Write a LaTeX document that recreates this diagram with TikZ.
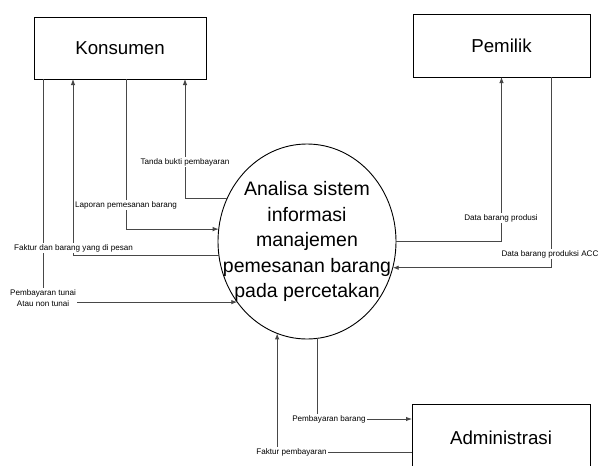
\documentclass[tikz,border=0pt]{standalone}
\usepackage{fontspec}
\setmainfont{Liberation Sans}
\usetikzlibrary{arrows.meta,shapes.geometric}
\begin{document}
\begin{tikzpicture}[x=1pt,y=-1pt,
  entity/.style={draw=black,line width=1pt,rectangle,inner sep=0pt,outer sep=0pt,
    font=\fontsize{18.7}{22}\selectfont},
  process/.style={draw=black,line width=0.9pt,ellipse,minimum width=178pt,
    minimum height=195pt,inner sep=0pt,outer sep=0pt},
  proctext/.style={align=center,inner sep=0pt,font=\fontsize{19.5}{25.5}\selectfont},
  flow/.style={draw=black!72,line width=0.9pt,-{Latex[length=6pt,width=4.5pt]}},
  lbl/.style={fill=white,inner xsep=1pt,inner ysep=1.5pt,align=center,
    font=\fontsize{8.1}{10.5}\selectfont}
]
\useasboundingbox (0,0) rectangle (600,466);
\clip (0,0) rectangle (600,466);
\fill[white] (0,0) rectangle (600,466);

% external entities
\node[entity,minimum width=172pt,minimum height=62pt] (kons) at (120,48) {Konsumen};
\node[entity,minimum width=177pt,minimum height=63pt] (pem) at (501.5,45.5) {Pemilik};
\node[entity,minimum width=178pt,minimum height=68pt] (adm) at (501,438) {Administrasi};

% the process
\node[process] (proc) at (307,241.5) {};
\node[proctext] (proctxt) at (proc.center) {Analisa sistem\\informasi\\manajemen\\pemesanan barang\\pada percetakan};

% data flows
\draw[flow] (proc.152.7) -| ([xshift=151pt]kons.south west);
\draw[flow] ([xshift=92pt]kons.south west) |- (proc.172);
\draw[flow] (proc.189.4) -| ([xshift=39pt]kons.south west);
\draw[flow] ([xshift=9pt]kons.south west) |- (proc.221.7);
\draw[flow] (proc.0) -| ([xshift=88.5pt]pem.south west);
\draw[flow] ([xshift=138pt]pem.south west) |- (proc.343.5);
\draw[flow] (proc.276.5) |- ([yshift=-15pt]adm.north west);
\draw[flow] ([yshift=-48pt]adm.north west) -| (proc.252.5);

% flow labels
\node[lbl] (l1) at (185,162) {Tanda bukti pembayaran};
\node[lbl] (l2) at (126,205) {Laporan pemesanan barang};
\node[lbl] (l3) at (73.5,248) {Faktur dan barang yang di pesan};
\node[lbl] (l4) at (43,298) {Pembayaran tunai\\Atau non tunai};
\node[lbl] (l5) at (501,218) {Data barang produsi};
\node[lbl] (l6) at (550,254) {Data barang produksi ACC};
\node[lbl] (l7) at (329,419) {Pembayaran barang};
\node[lbl] (l8) at (291.5,452) {Faktur pembayaran};
\end{tikzpicture}
\end{document}
